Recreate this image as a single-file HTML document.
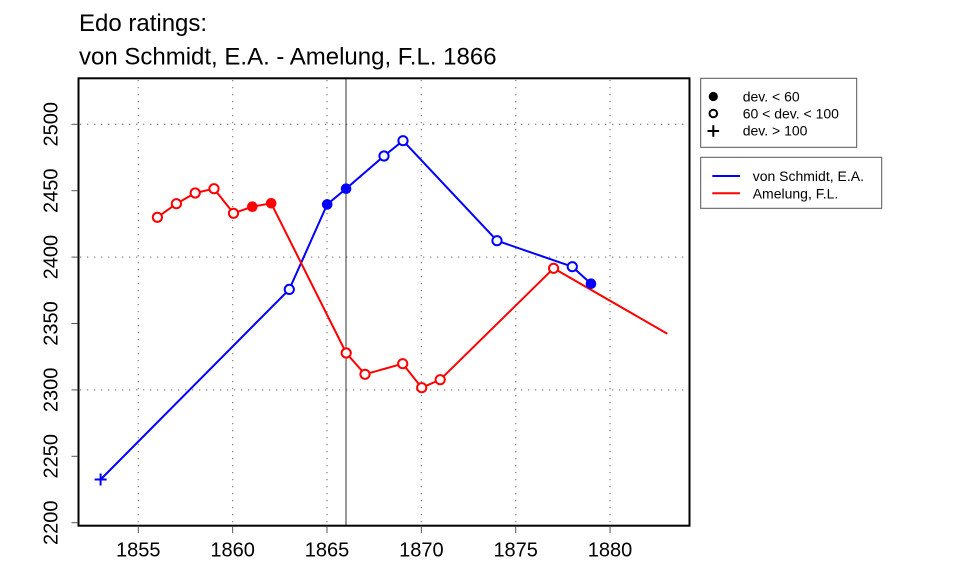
<!DOCTYPE html>
<html><head><meta charset="utf-8"><style>
html,body{margin:0;padding:0;background:#fff;}
svg{display:block;font-family:"Liberation Sans",Arial,sans-serif;}
</style></head><body>
<svg width="960" height="576" viewBox="0 0 960 576" xmlns="http://www.w3.org/2000/svg">
<rect width="960" height="576" fill="#fff"/>
<!-- title -->
<text x="79" y="31" font-size="24" fill="#000">Edo ratings:</text>
<text x="79" y="64.5" font-size="24" fill="#000">von Schmidt, E.A. - Amelung, F.L. 1866</text>
<!-- grid -->
<g stroke="#888" stroke-width="1.3" stroke-dasharray="1.3 5.7" fill="none">
<line x1="138.3" y1="80" x2="138.3" y2="524"/>
<line x1="232.65" y1="80" x2="232.65" y2="524"/>
<line x1="327" y1="80" x2="327" y2="524"/>
<line x1="421.35" y1="80" x2="421.35" y2="524"/>
<line x1="515.7" y1="80" x2="515.7" y2="524"/>
<line x1="610.05" y1="80" x2="610.05" y2="524"/>
<line x1="80" y1="124.3" x2="688" y2="124.3"/>
<line x1="80" y1="257.1" x2="688" y2="257.1"/>
<line x1="80" y1="389.9" x2="688" y2="389.9"/>
</g>
<!-- vertical line 1866 -->
<line x1="346" y1="78" x2="346" y2="526" stroke="#333" stroke-width="1"/>
<!-- series lines -->
<polyline fill="none" stroke="#0000ff" stroke-width="2" stroke-linejoin="round" points="100.6,479.5 289.3,289.4 327.2,204.4 346.1,188.7 384,156 403,140.7 497,240.7 572.3,266.7 591,283.7"/>
<polyline fill="none" stroke="#ff0000" stroke-width="2" stroke-linejoin="round" points="157.4,217.3 176.4,203.7 195.2,193 214,188.7 233.5,213.3 252.3,206.7 271.2,203.3 346.2,353 365,374.3 402.7,363.7 421.7,387.7 440.2,379.7 553.6,268.3 667.3,333.7"/>
<!-- markers blue -->
<g stroke="#0000ff" stroke-width="2" fill="none">
<line x1="94.6" y1="479.5" x2="106.6" y2="479.5"/>
<line x1="100.6" y1="473.5" x2="100.6" y2="485.5"/>
<circle cx="289.3" cy="289.4" r="4.6" fill="#fff"/>
<circle cx="384" cy="156" r="4.6" fill="#fff"/>
<circle cx="403" cy="140.7" r="4.6" fill="#fff"/>
<circle cx="497" cy="240.7" r="4.6" fill="#fff"/>
<circle cx="572.3" cy="266.7" r="4.6" fill="#fff"/>
</g>
<g fill="#0000ff">
<circle cx="327.2" cy="204.4" r="5.3"/>
<circle cx="346.1" cy="188.7" r="5.3"/>
<circle cx="591" cy="283.7" r="5.3"/>
</g>
<!-- markers red -->
<g stroke="#ff0000" stroke-width="2" fill="#fff">
<circle cx="157.4" cy="217.3" r="4.6"/>
<circle cx="176.4" cy="203.7" r="4.6"/>
<circle cx="195.2" cy="193" r="4.6"/>
<circle cx="214" cy="188.7" r="4.6"/>
<circle cx="233.5" cy="213.3" r="4.6"/>
<circle cx="346.2" cy="353" r="4.6"/>
<circle cx="365" cy="374.3" r="4.6"/>
<circle cx="402.7" cy="363.7" r="4.6"/>
<circle cx="421.7" cy="387.7" r="4.6"/>
<circle cx="440.2" cy="379.7" r="4.6"/>
<circle cx="553.6" cy="268.3" r="4.6"/>
</g>
<g fill="#ff0000">
<circle cx="252.3" cy="206.7" r="5.3"/>
<circle cx="271.2" cy="203.3" r="5.3"/>
</g>
<!-- box -->
<rect x="78.5" y="78.3" width="611" height="447.4" fill="none" stroke="#000" stroke-width="2"/>
<!-- ticks -->
<g stroke="#555" stroke-width="1">
<line x1="71.5" y1="124.3" x2="78" y2="124.3"/>
<line x1="71.5" y1="190.7" x2="78" y2="190.7"/>
<line x1="71.5" y1="257.1" x2="78" y2="257.1"/>
<line x1="71.5" y1="323.5" x2="78" y2="323.5"/>
<line x1="71.5" y1="389.9" x2="78" y2="389.9"/>
<line x1="71.5" y1="456.3" x2="78" y2="456.3"/>
<line x1="71.5" y1="522.7" x2="78" y2="522.7"/>
<line x1="138.3" y1="527" x2="138.3" y2="533"/>
<line x1="232.65" y1="527" x2="232.65" y2="533"/>
<line x1="327" y1="527" x2="327" y2="533"/>
<line x1="421.35" y1="527" x2="421.35" y2="533"/>
<line x1="515.7" y1="527" x2="515.7" y2="533"/>
<line x1="610.05" y1="527" x2="610.05" y2="533"/>
</g>
<!-- y labels -->
<g font-size="20" fill="#000" text-anchor="middle">
<text transform="translate(57.3,124.3) rotate(-90)">2500</text>
<text transform="translate(57.3,190.7) rotate(-90)">2450</text>
<text transform="translate(57.3,257.1) rotate(-90)">2400</text>
<text transform="translate(57.3,323.5) rotate(-90)">2350</text>
<text transform="translate(57.3,389.9) rotate(-90)">2300</text>
<text transform="translate(57.3,456.3) rotate(-90)">2250</text>
<text transform="translate(57.3,522.7) rotate(-90)">2200</text>
<text x="138.3" y="556.7">1855</text>
<text x="232.65" y="556.7">1860</text>
<text x="327" y="556.7">1865</text>
<text x="421.35" y="556.7">1870</text>
<text x="515.7" y="556.7">1875</text>
<text x="610.05" y="556.7">1880</text>
</g>
<!-- legend 1 -->
<rect x="700.7" y="78.3" width="156" height="69" fill="#fff" stroke="#555" stroke-width="1"/>
<circle cx="713.3" cy="96.5" r="4.6" fill="#000"/>
<circle cx="713.3" cy="113.5" r="3.8" fill="none" stroke="#000" stroke-width="2"/>
<line x1="707.5" y1="131" x2="719.1" y2="131" stroke="#000" stroke-width="2"/>
<line x1="713.3" y1="125.2" x2="713.3" y2="136.8" stroke="#000" stroke-width="2"/>
<g font-size="14" fill="#000">
<text x="742.7" y="101.5">dev. &lt; 60</text>
<text x="742.7" y="118.5">60 &lt; dev. &lt; 100</text>
<text x="742.7" y="135.5">dev. &gt; 100</text>
</g>
<!-- legend 2 -->
<rect x="700.7" y="157.3" width="181" height="51" fill="#fff" stroke="#555" stroke-width="1"/>
<line x1="712.3" y1="176" x2="740" y2="176" stroke="#0000ff" stroke-width="2"/>
<line x1="712.3" y1="193.3" x2="740" y2="193.3" stroke="#ff0000" stroke-width="2"/>
<g font-size="14" fill="#000">
<text x="752.7" y="181">von Schmidt, E.A.</text>
<text x="752.7" y="198.3">Amelung, F.L.</text>
</g>
</svg>
</body></html>
